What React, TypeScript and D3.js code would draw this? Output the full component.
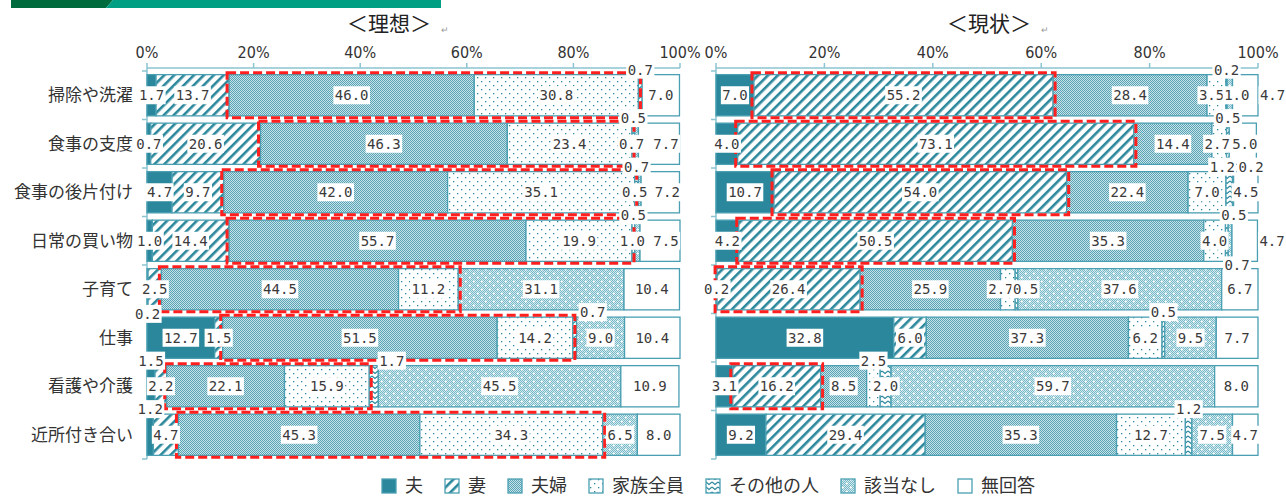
import React from 'react';
import * as d3 from 'd3';

const categories = ['掃除や洗濯', '食事の支度', '食事の後片付け', '日常の買い物', '子育て', '仕事', '看護や介護', '近所付き合い'];
const seriesNames = ['夫', '妻', '夫婦', '家族全員', 'その他の人', '該当なし', '無回答'];
const tickValues = [0, 20, 40, 60, 80, 100];

// 理想
const idealHusband = [1.7, 0.7, 4.7, 1.0, 0.2, 12.7, 1.5, 1.2];
const idealWife = [13.7, 20.6, 9.7, 14.4, 2.5, 1.5, 2.2, 4.7];
const idealCouple = [46.0, 46.3, 42.0, 55.7, 44.5, 51.5, 22.1, 45.3];
const idealFamily = [30.8, 23.4, 35.1, 19.9, 11.2, 14.2, 15.9, 34.3];
const idealOther = [0.7, 0.5, 0.7, 0.5, 0, 0.7, 1.7, 0];
const idealNone = [0, 0.7, 0.5, 1.0, 31.1, 9.0, 45.5, 6.5];
const idealNoAnswer = [7.0, 7.7, 7.2, 7.5, 10.4, 10.4, 10.9, 8.0];

// 現状
const currentHusband = [7.0, 4.0, 10.7, 4.2, 0.2, 32.8, 3.1, 9.2];
const currentWife = [55.2, 73.1, 54.0, 50.5, 26.4, 6.0, 16.2, 29.4];
const currentCouple = [28.4, 14.4, 22.4, 35.3, 25.9, 37.3, 8.5, 35.3];
const currentFamily = [3.5, 2.7, 7.0, 4.0, 2.7, 6.2, 2.5, 12.7];
const currentOther = [0.2, 0.5, 1.2, 0.5, 0.5, 0.5, 2.0, 1.2];
const currentNone = [1.0, 0, 0.2, 0.7, 37.6, 9.5, 59.7, 7.5];
const currentNoAnswer = [4.7, 5.0, 4.5, 4.7, 6.7, 7.7, 8.0, 4.7];

const idealSeries = [idealHusband, idealWife, idealCouple, idealFamily, idealOther, idealNone, idealNoAnswer];
const currentSeries = [currentHusband, currentWife, currentCouple, currentFamily, currentOther, currentNone, currentNoAnswer];

// red dashed highlight
const idealHiSeries = ['夫婦', '家族全員'];
const idealHiRows = categories;
const currentHiSeries = ['妻'];
const currentHiRows = ['掃除や洗濯', '食事の支度', '食事の後片付け', '日常の買い物', '子育て', '看護や介護'];

// label placement per row and series: c=center a=above A=above-right b=below r=right of bar, +n/-n nudge
const idealPlace = [
  'c c c c a c c',
  'c c c c a c-5 c+7',
  'c c c c a c-5 c+7',
  'c c c c a c-5 c+6',
  'b c c c c c c',
  'c c c c A c c',
  'a c c c A c c',
  'a c c c c c c',
];
const currentPlace = [
  'c c c c-5 a c+7 r',
  'c c c c-2 a c c+2',
  'c c c c a-7 A c',
  'c c c c a+7 b+7 r',
  'c c c c-7 c+9 c c',
  'c c c c a c c',
  'c c c a c c c',
  'c c c c a c c',
];

const TEAL = '#2b879b';
const EDGE = '#4a9fb2';
const AXIS = '#8cc5d1';
const fills = ['url(#pHusband)', 'url(#pWife)', 'url(#pCouple)', 'url(#pFamily)', 'url(#pOther)', 'url(#pNone)', '#ffffff'];
const fmt = d3.format('.1f');
const LABEL_FONT = "'DejaVu Sans Mono', 'Liberation Mono', monospace";
const TICK_FONT = "'Liberation Sans Narrow', 'DejaVu Sans Condensed', Roboto, sans-serif";
const JP_FONT = "'Noto Sans CJK JP', sans-serif";

const Patterns = () => (
  <defs>
    <pattern id="pHusband" width="4" height="4" patternUnits="userSpaceOnUse">
      <rect width="4" height="4" fill={TEAL} />
    </pattern>
    <pattern id="pWife" width="7" height="7" patternUnits="userSpaceOnUse" patternTransform="rotate(45)">
      <rect width="7" height="7" fill="#fff" />
      <rect width="2.6" height="7" fill={TEAL} />
    </pattern>
    <pattern id="pCouple" width="2" height="2" patternUnits="userSpaceOnUse">
      <rect width="2" height="2" fill="#c6e3e9" />
      <rect width="1" height="1" fill="#5aa3b4" />
      <rect x="1" y="1" width="1" height="1" fill="#5aa3b4" />
    </pattern>
    <pattern id="pFamily" width="8" height="8" patternUnits="userSpaceOnUse">
      <rect width="8" height="8" fill="#fff" />
      <rect x="1" y="1" width="1.3" height="1.3" fill={TEAL} />
      <rect x="5" y="5" width="1.3" height="1.3" fill={TEAL} />
    </pattern>
    <pattern id="pOther" width="6" height="5" patternUnits="userSpaceOnUse">
      <rect width="6" height="5" fill="#fff" />
      <path d="M0,1 L3,3.5 L6,1" fill="none" stroke={TEAL} strokeWidth="1.2" />
    </pattern>
    <pattern id="pNone" width="8" height="8" patternUnits="userSpaceOnUse">
      <rect width="8" height="8" fill="#d2eaef" />
      {d3.range(0, 8).flatMap((i) =>
        d3.range(0, 8).filter((j) => (i + j) % 2 === 0).map((j) => (
          <rect key={`${i}-${j}`} x={i} y={j} width="1" height="1" fill="#78b9c8" />
        ))
      )}
      <rect x="1" y="1" width="2" height="1" fill="#fff" />
      <rect x="1.5" y="0.5" width="1" height="2" fill="#fff" />
      <rect x="5" y="5" width="2" height="1" fill="#fff" />
      <rect x="5.5" y="4.5" width="1" height="2" fill="#fff" />
    </pattern>
  </defs>
);

interface PanelProps {
  x0: number;
  x1: number;
  series: number[][];
  place: string[];
  hiSeries: string[];
  hiRows: string[];
  title: string;
  titleX: number;
  showCategories: boolean;
}

const Panel: React.FC<PanelProps> = ({ x0, x1, series, place, hiSeries, hiRows, title, titleX, showCategories }) => {
  const x = d3.scaleLinear().domain([0, 100]).range([x0, x1]);
  const y = d3.scaleBand<string>().domain(categories).range([71, 459]).paddingInner(0.15).paddingOuter(0.075);
  const bw = y.bandwidth();
  const gap = y.step() - bw;

  const rows = categories.map((c, i) => {
    let acc = 0;
    return series.map((s, j) => {
      const seg = { start: acc, end: acc + s[i], v: s[i], j };
      acc += s[i];
      return seg;
    });
  });

  const labels: { key: string; cx: number; cy: number; text: string }[] = [];
  rows.forEach((segs, i) => {
    const c = categories[i];
    const top = y(c)!;
    const codes = place[i].split(' ');
    segs.forEach((sg) => {
      if (sg.v <= 0) return;
      const text = fmt(sg.v);
      const tw = text.length * 8.4;
      const code = codes[sg.j] || 'c';
      let cx = (x(sg.start) + x(sg.end)) / 2;
      let cy = top + bw / 2;
      if (code[0] === 'a') cy = top - 5;
      if (code[0] === 'A') { cy = top - 5; cx += 18; }
      if (code[0] === 'b') cy = top + bw + 4;
      if (code[0] === 'r') cx = x(sg.end) + 2 + tw / 2;
      const nudge = code.match(/[+-]\d+$/);
      if (nudge) cx += +nudge[0];
      labels.push({ key: `${c}-${sg.j}`, cx, cy, text });
    });
  });

  return (
    <g>
      <text x={titleX} y={31} textAnchor="middle" fontFamily={JP_FONT} fontSize={21} fill="#222">{title}</text>
      <text x={titleX + 52} y={33} fontFamily={JP_FONT} fontSize={9} fill="#999">↵</text>

      {/* top axis */}
      <line x1={x0} x2={x1} y1={68} y2={68} stroke={AXIS} strokeWidth={1.5} />
      {tickValues.map((t) => (
        <g key={t}>
          <line x1={x(t)} x2={x(t)} y1={63} y2={68} stroke={AXIS} strokeWidth={1.5} />
          <text x={x(t)} y={58} textAnchor="middle" fontFamily={TICK_FONT} fontSize={16} fill="#333">{t}%</text>
        </g>
      ))}

      {/* category axis */}
      <line x1={x0} x2={x0} y1={68} y2={459} stroke={AXIS} strokeWidth={1.5} />
      {categories.map((c) => (
        <line key={c} x1={x0 - 5} x2={x0} y1={y(c)! - gap / 2} y2={y(c)! - gap / 2} stroke={AXIS} strokeWidth={1.5} />
      ))}
      <line x1={x0 - 5} x2={x0} y1={459} y2={459} stroke={AXIS} strokeWidth={1.5} />
      {showCategories && categories.map((c) => (
        <text key={c} x={133} y={y(c)! + bw / 2 + 6} textAnchor="end" fontFamily={JP_FONT} fontSize={17} fill="#333">{c}</text>
      ))}

      {/* bars */}
      {rows.map((segs, i) => (
        <g key={categories[i]}>
          {segs.filter((s) => s.v > 0).map((s) => (
            <rect key={s.j} x={x(s.start)} y={y(categories[i])} width={x(s.end) - x(s.start)} height={bw}
              fill={fills[s.j]} stroke={EDGE} strokeWidth={1.3} />
          ))}
        </g>
      ))}

      {/* highlight boxes */}
      {rows.map((segs, i) => {
        if (!hiRows.includes(categories[i])) return null;
        const hs = segs.filter((s) => hiSeries.includes(seriesNames[s.j]));
        const s0 = d3.min(hs, (s) => s.start)!;
        const s1 = d3.max(hs, (s) => s.end)!;
        return (
          <rect key={categories[i]} x={x(s0) - 2} y={y(categories[i])! - 2} width={x(s1) - x(s0) + 4} height={bw + 4}
            fill="none" stroke="#ff1f1f" strokeWidth={3} strokeDasharray="9,4" />
        );
      })}

      {/* value labels */}
      {labels.map((l) => {
        const tw = l.text.length * 8.4;
        return (
          <g key={l.key}>
            <rect x={l.cx - tw / 2 - 1.5} y={l.cy - 9} width={tw + 3} height={18} fill="#fff" />
            <text x={l.cx} y={l.cy + 5} textAnchor="middle" fontFamily={LABEL_FONT} fontSize={14} fill="#3a3a3a">{l.text}</text>
          </g>
        );
      })}
    </g>
  );
};

const Legend = () => {
  const fontSize = 18;
  const sw = 14;
  const widths = seriesNames.map((n) => sw + 9 + n.length * fontSize);
  const starts = d3.cumsum([0, ...widths.slice(0, -1).map((w) => w + 22)]);
  const left = 382;
  return (
    <g>
      {seriesNames.map((n, i) => (
        <g key={n} transform={`translate(${left + starts[i]},486)`}>
          <rect x={0} y={-sw / 2} width={sw} height={sw} fill={fills[i]} stroke={EDGE} strokeWidth={1.3} />
          <text x={sw + 9} y={6} fontFamily={JP_FONT} fontSize={fontSize} fill="#333">{n}</text>
        </g>
      ))}
    </g>
  );
};

export default function App() {
  return (
    <svg width={1286} height={497} style={{ position: 'absolute', left: 0, top: 0, background: '#fff' }}>
      <Patterns />
      <path d="M11,0 L113,0 L106,8 L11,8 Z" fill="#006b3c" />
      <path d="M113,0 L441,0 L441,8 L106,8 Z" fill="#009e83" />
      <Panel x0={147} x1={680} series={idealSeries} place={idealPlace} hiSeries={idealHiSeries} hiRows={idealHiRows}
        title="＜理想＞" titleX={389} showCategories />
      <Panel x0={716} x1={1258} series={currentSeries} place={currentPlace} hiSeries={currentHiSeries} hiRows={currentHiRows}
        title="＜現状＞" titleX={989} showCategories={false} />
      <Legend />
    </svg>
  );
}
